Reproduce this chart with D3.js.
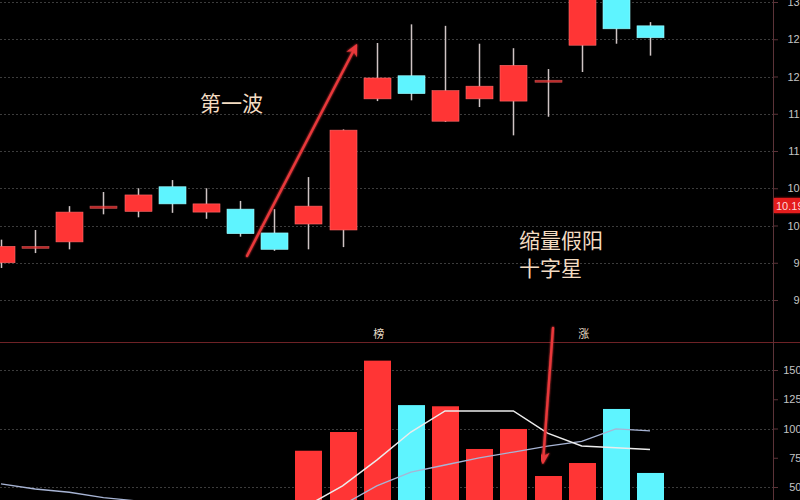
<!DOCTYPE html>
<html>
<head>
<meta charset="utf-8">
<script src="https://cdn.jsdelivr.net/npm/d3@7/dist/d3.min.js"></script>
<style>
html,body{margin:0;padding:0;background:#000;overflow:hidden;}
svg{display:block;}
</style>
</head>
<body>
<svg id="chart" width="800" height="500"></svg>
<script>
// ---------- data ----------
const days   = d3.range(20);
const opens  = [9.50, 9.70, 9.78, 10.23, 10.19, 10.52, 10.18, 10.22, 9.90, 10.02, 9.94, 11.70, 12.01, 11.40, 11.70, 11.67, 11.93, 12.42, 13.43, 12.68];
const highs  = [9.81, 9.94, 10.26, 10.45, 10.50, 10.61, 10.50, 10.33, 10.22, 10.65, 11.29, 12.45, 12.70, 12.68, 12.44, 12.38, 12.10, 13.40, 13.50, 12.73];
const lows   = [9.43, 9.63, 9.68, 10.15, 10.11, 10.17, 10.09, 9.85, 9.66, 9.68, 9.71, 11.67, 11.68, 11.39, 11.59, 11.21, 11.46, 12.06, 12.44, 12.28];
const closes = [9.72, 9.72, 10.18, 10.26, 10.41, 10.29, 10.29, 9.89, 9.68, 10.26, 11.28, 11.98, 11.77, 11.81, 11.87, 12.15, 11.95, 13.36, 12.64, 12.52];
const volumes = [28, 22, 35, 20, 25, 24, 22, 30, 26, 81, 97, 158, 120, 119, 82.5, 99.6, 59.4, 70.5, 116.7, 62];
const ma5  = [30, 28, 27, 26, 26, 25, 25, 26, 27, 34.6, 51, 73, 97, 115, 115, 115, 96, 85, 83.5, 82];
const ma10 = [52.6, 48.3, 45.5, 41, 38, 36, 35, 34, 33, 33.5, 34.6, 50.9, 62.8, 68.8, 74.8, 79.9, 85, 89, 99.6, 97.9];
const priceTicks  = [13.0, 12.5, 12.0, 11.5, 11.0, 10.5, 10.0, 9.5, 9.0];
const volumeTicks = [150, 125, 100, 75, 50];
const volumeGrid  = [150, 100, 50];
const lastPriceLabel = "10.19";
const panelMarks = [{text: "榜", day: 11}, {text: "涨", day: 17}];

// ---------- scales ----------
const W = 800, H = 500, axisX = 773, sepY = 342;
const x = d3.scaleLinear().domain([0, 19]).range([1, 650]);
const y = d3.scaleLinear().domain([9.0, 13.0]).range([300, 2]);
const yv = d3.scaleLinear().domain([50, 150]).range([487, 370]);
const bodyW = 27;
const RED = "#ff3535", CYAN = "#5ef4ff", WICK = "#cfc4c4";

const svg = d3.select("#chart");
svg.append("rect").attr("width", W).attr("height", H).attr("fill", "#000");

const defs = svg.append("defs");
defs.append("clipPath").attr("id", "clipP").append("rect")
  .attr("x", 0).attr("y", 0).attr("width", axisX).attr("height", sepY);
defs.append("clipPath").attr("id", "clipV").append("rect")
  .attr("x", 0).attr("y", sepY + 1).attr("width", axisX).attr("height", H - sepY);
const glow = defs.append("filter").attr("id", "glow").attr("x", "-20%").attr("y", "-20%").attr("width", "140%").attr("height", "140%");
glow.append("feGaussianBlur").attr("stdDeviation", 1.2).attr("result", "b");
const fm = glow.append("feMerge");
fm.append("feMergeNode").attr("in", "b");
fm.append("feMergeNode").attr("in", "SourceGraphic");
const mk = defs.append("marker").attr("id", "head").attr("viewBox", "0 0 10 10")
  .attr("refX", 8).attr("refY", 5).attr("markerWidth", 5).attr("markerHeight", 5)
  .attr("orient", "auto-start-reverse").attr("markerUnits", "strokeWidth");
mk.append("path").attr("d", "M0,0 L10,5 L0,10 L3,5 Z").attr("fill", "#e8383a");

// ---------- grid ----------
const grid = svg.append("g");
grid.selectAll("line.pg").data(priceTicks).join("line")
  .attr("x1", 0).attr("x2", axisX).attr("y1", d => Math.round(y(d)) + 0.5).attr("y2", d => Math.round(y(d)) + 0.5)
  .attr("stroke", "#3c3c3c").attr("stroke-width", 1).attr("stroke-dasharray", "2,2");
grid.selectAll("line.vg").data(volumeGrid).join("line")
  .attr("x1", 0).attr("x2", axisX).attr("y1", d => Math.round(yv(d)) + 0.5).attr("y2", d => Math.round(yv(d)) + 0.5)
  .attr("stroke", "#3c3c3c").attr("stroke-width", 1).attr("stroke-dasharray", "2,2");

// separator and axis line
svg.append("line").attr("x1", 0).attr("x2", W).attr("y1", sepY + 0.5).attr("y2", sepY + 0.5)
  .attr("stroke", "#6e2226").attr("stroke-width", 1.2);
svg.append("line").attr("x1", axisX + 0.5).attr("x2", axisX + 0.5).attr("y1", 0).attr("y2", H)
  .attr("stroke", "#5c3338").attr("stroke-width", 1);

// ---------- right axes (labels run past the right edge, as in the reference crop) ----------
const pAxis = d3.axisRight(y).tickValues(priceTicks).tickFormat(d3.format(".2f")).tickSize(5);
const gp = svg.append("g").attr("transform", `translate(${axisX},0)`).call(pAxis);
const vAxis = d3.axisRight(yv).tickValues(volumeTicks).tickFormat(d3.format("d")).tickSize(5);
const gv = svg.append("g").attr("transform", `translate(${axisX},0)`).call(vAxis);
[[gp, 42], [gv, 28.5]].forEach(([g, endX]) => {
  g.select(".domain").remove();
  g.selectAll(".tick line").attr("stroke", "#5c3338");
  g.selectAll(".tick text").attr("fill", "#c4c4c4").attr("font-size", 11)
    .attr("text-anchor", "end").attr("x", endX)
    .attr("font-family", "Liberation Sans, Arial, sans-serif");
});

// last price label
const lp = svg.append("g");
lp.append("rect").attr("x", axisX + 1).attr("y", 198).attr("width", W - axisX).attr("height", 15)
  .attr("fill", "#e41c1c").attr("filter", "url(#glow)");
lp.append("text").attr("x", axisX + 3).attr("y", 209.5).text(lastPriceLabel)
  .attr("fill", "#ffd6d6").attr("font-size", 11).attr("font-family", "Liberation Sans, Arial, sans-serif");

// ---------- candles ----------
const candles = days.map(i => ({i, o: opens[i], h: highs[i], l: lows[i], c: closes[i]}));
const cg = svg.append("g").attr("clip-path", "url(#clipP)");
const cs = cg.selectAll("g.c").data(candles).join("g");
cs.append("line")
  .attr("x1", d => Math.round(x(d.i)) + 0.5).attr("x2", d => Math.round(x(d.i)) + 0.5)
  .attr("y1", d => y(d.h)).attr("y2", d => y(d.l))
  .attr("stroke", WICK).attr("stroke-width", 1.5);
cs.append("rect")
  .attr("x", d => Math.round(x(d.i)) - bodyW / 2 + 0.5)
  .attr("width", bodyW)
  .attr("y", d => y(Math.max(d.o, d.c)))
  .attr("height", d => Math.max(2, Math.abs(y(d.o) - y(d.c))))
  .attr("fill", d => d.c >= d.o ? RED : CYAN)
  .attr("stroke", d => d.c >= d.o ? "#ff6a6a" : "#9ffaff").attr("stroke-width", 0.6)
  .attr("opacity", d => Math.abs(y(d.o) - y(d.c)) < 4 ? 0.75 : 1);

// ---------- volume ----------
const vg = svg.append("g").attr("clip-path", "url(#clipV)");
vg.selectAll("rect").data(days).join("rect")
  .attr("x", i => Math.round(x(i)) - bodyW / 2 + 0.5)
  .attr("width", bodyW)
  .attr("y", i => yv(volumes[i]))
  .attr("height", i => Math.max(0, yv(0) - yv(volumes[i])))
  .attr("fill", i => closes[i] >= opens[i] ? RED : CYAN);
const lineGen = arr => d3.line().x(i => x(i)).y(i => yv(arr[i]))(days);
vg.append("path").attr("d", lineGen(ma10)).attr("fill", "none")
  .attr("stroke", "#a7b4d4").attr("stroke-width", 1.3);
vg.append("path").attr("d", lineGen(ma5)).attr("fill", "none")
  .attr("stroke", "#ececec").attr("stroke-width", 1.5);

// panel marks
svg.selectAll("text.pm").data(panelMarks).join("text")
  .attr("x", d => x(d.day) + 2).attr("y", 338).attr("text-anchor", "middle")
  .text(d => d.text).attr("fill", "#e8dcc8").attr("font-size", 11)
  .attr("font-family", "Noto Sans CJK SC, sans-serif");

// ---------- annotations ----------
const arrows = [
  {x1: 247, y1: 256, x2: 356, y2: 46},
  {x1: 548, y1: 228, x2: 548, y2: 123},
  {x1: 553, y1: 328, x2: 543, y2: 462}
];
svg.selectAll("line.ar").data(arrows).join("line")
  .attr("x1", d => d.x1).attr("y1", d => d.y1).attr("x2", d => d.x2).attr("y2", d => d.y2)
  .attr("stroke", "#e8383a").attr("stroke-width", 2.4).attr("stroke-linecap", "round")
  .attr("marker-end", "url(#head)").attr("filter", "url(#glow)");

const labels = [
  {text: "第一波", x: 200, y: 111},
  {text: "缩量假阳", x: 519, y: 248},
  {text: "十字星", x: 519, y: 276}
];
svg.selectAll("text.lb").data(labels).join("text")
  .attr("x", d => d.x).attr("y", d => d.y).text(d => d.text)
  .attr("fill", "#f3dcc2").attr("font-size", 21)
  .attr("font-family", "Noto Sans CJK SC, sans-serif");
</script>
</body>
</html>
